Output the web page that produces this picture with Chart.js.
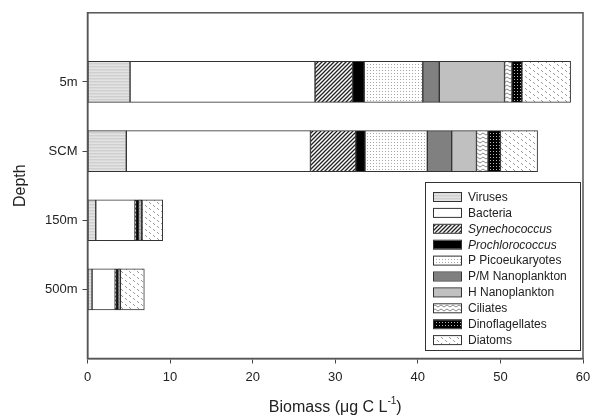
<!DOCTYPE html>
<html>
<head>
<meta charset="utf-8">
<script src="https://cdn.jsdelivr.net/npm/chart.js@4/dist/chart.umd.min.js"></script>
<style>
  html, body { margin: 0; padding: 0; background: #fff; }
  #wrap { width: 600px; height: 419px; }
</style>
</head>
<body>
<div id="wrap"><canvas id="biomassChart" width="600" height="419"></canvas></div>
<script>
// Depth categories (top to bottom)
const depths = ["5m", "SCM", "150m", "500m"];
const xTicks = [0, 10, 20, 30, 40, 50, 60];

// Biomass per group (ug C / L), one value per depth
const viruses         = [5.15, 4.7, 1.0, 0.55];
const bacteria        = [22.4, 22.3, 4.75, 2.8];
const synechococcus   = [4.55, 5.5, 0.1, 0.1];
const prochlorococcus = [1.4, 1.1, 0.35, 0.3];
const picoeukaryotes  = [7.1, 7.55, 0.1, 0.05];
const pmNano          = [2.0, 2.95, 0.05, 0.03];
const hNano           = [7.9, 3.0, 0.05, 0.03];
const ciliates        = [0.9, 1.4, 0.05, 0.02];
const dinoflagellates = [1.2, 1.5, 0.15, 0.1];
const diatoms         = [5.9, 4.5, 2.5, 2.9];

const FONT = "'Liberation Sans', Arial, sans-serif";

// small tiles used as fill patterns
function makePattern(w, h, draw) {
    const c = document.createElement("canvas");
    c.width = w; c.height = h;
    const g = c.getContext("2d");
    draw(g, w, h);
    return document.createElement("canvas").getContext("2d").createPattern(c, "repeat");
}

const pat = {
    viruses: makePattern(1, 3, g => {
        g.fillStyle = "#cfcfcf"; g.fillRect(0, 0, 1, 1);
        g.fillStyle = "#dadada"; g.fillRect(0, 1, 1, 1);
        g.fillStyle = "#e3e3e3"; g.fillRect(0, 2, 1, 1);
    }),
    syn: makePattern(4, 4, g => {
        g.fillStyle = "#fff"; g.fillRect(0, 0, 4, 4);
        g.strokeStyle = "#222"; g.lineWidth = 1.3;
        g.beginPath();
        g.moveTo(0, 4); g.lineTo(4, 0);
        g.moveTo(-1, 1); g.lineTo(1, -1);
        g.moveTo(3, 5); g.lineTo(5, 3);
        g.stroke();
    }),
    pico: makePattern(3, 3, g => {
        g.fillStyle = "#fff"; g.fillRect(0, 0, 3, 3);
        g.fillStyle = "#a8a8a8"; g.fillRect(1, 1, 1, 1);
    }),
    cil: makePattern(6, 4, g => {
        g.fillStyle = "#fff"; g.fillRect(0, 0, 6, 4);
        g.strokeStyle = "#888"; g.lineWidth = 1;
        g.beginPath();
        g.moveTo(0, 3); g.lineTo(3, 1); g.lineTo(6, 3);
        g.stroke();
    }),
    dino: makePattern(3, 3, g => {
        g.fillStyle = "#000"; g.fillRect(0, 0, 3, 3);
        g.fillStyle = "#bbb"; g.fillRect(1, 1, 1, 1);
    }),
    diatoms: makePattern(8, 6, g => {
        g.fillStyle = "#fff"; g.fillRect(0, 0, 8, 6);
        g.fillStyle = "#999";
        g.fillRect(1, 1, 1, 1); g.fillRect(2, 2, 1, 1);
        g.fillRect(5, 4, 1, 1); g.fillRect(6, 5, 1, 1);
    })
};

const groups = [
    { label: "Viruses", data: viruses, fill: pat.viruses },
    { label: "Bacteria", data: bacteria, fill: "#ffffff" },
    { label: "Synechococcus", data: synechococcus, fill: pat.syn, italic: true },
    { label: "Prochlorococcus", data: prochlorococcus, fill: "#000000", italic: true },
    { label: "P Picoeukaryotes", data: picoeukaryotes, fill: pat.pico },
    { label: "P/M Nanoplankton", data: pmNano, fill: "#808080" },
    { label: "H Nanoplankton", data: hNano, fill: "#c0c0c0" },
    { label: "Ciliates", data: ciliates, fill: pat.cil },
    { label: "Dinoflagellates", data: dinoflagellates, fill: pat.dino },
    { label: "Diatoms", data: diatoms, fill: pat.diatoms }
];

// empty slots above 5m and below 500m
const labels = ["", ...depths, ""];

// frame, boxed legend and axis titles
const decorPlugin = {
    id: "decor",
    afterDraw(chart) {
        const ctx = chart.ctx;
        const a = chart.chartArea;
        ctx.save();
        ctx.strokeStyle = "#555";
        ctx.lineWidth = 1.5;
        ctx.strokeRect(a.left, a.top, a.right - a.left, a.bottom - a.top);

        // legend box
        const bx = 425, by = 182, bw = 155, bh = 168;
        ctx.fillStyle = "#fff";
        ctx.fillRect(bx, by, bw, bh);
        ctx.strokeStyle = "#333";
        ctx.lineWidth = 1;
        ctx.strokeRect(bx + 0.5, by + 0.5, bw, bh);
        chart.data.datasets.forEach((ds, i) => {
            const cy = 197 + i * 15.9;
            ctx.fillStyle = ds.backgroundColor;
            ctx.fillRect(433, cy - 4, 28, 8);
            ctx.strokeStyle = "#333";
            ctx.strokeRect(433.5, cy - 4.5, 28, 9);
            ctx.fillStyle = "#222";
            ctx.font = (groups[i].italic ? "italic " : "") + "12px " + FONT;
            ctx.textBaseline = "middle";
            ctx.textAlign = "left";
            ctx.fillText(ds.label, 468, cy + 0.5);
        });

        // y title
        ctx.fillStyle = "#222";
        ctx.font = "16px " + FONT;
        ctx.textAlign = "center";
        ctx.textBaseline = "middle";
        ctx.save();
        ctx.translate(21, (a.top + a.bottom) / 2);
        ctx.rotate(-Math.PI / 2);
        ctx.fillText("Depth", 0, 0);
        ctx.restore();

        // x title with superscript
        const main = "Biomass (\u03bcg C L";
        const sup = "-1";
        const tail = ")";
        ctx.font = "16px " + FONT;
        const w1 = ctx.measureText(main).width;
        const w3 = ctx.measureText(tail).width;
        ctx.font = "10px " + FONT;
        const w2 = ctx.measureText(sup).width;
        let x = (a.left + a.right) / 2 - (w1 + w2 + w3) / 2;
        const y = 408;
        ctx.textAlign = "left";
        ctx.font = "16px " + FONT;
        ctx.fillText(main, x, y);
        x += w1;
        ctx.font = "10px " + FONT;
        ctx.fillText(sup, x, y - 7);
        x += w2;
        ctx.font = "16px " + FONT;
        ctx.fillText(tail, x, y);
        ctx.restore();
    }
};

const ctx = document.getElementById("biomassChart").getContext("2d");
const chart = new Chart(ctx, {
    type: "bar",
    data: {
        labels: labels,
        datasets: groups.map(g => ({
            label: g.label,
            data: [null, ...g.data, null],
            backgroundColor: g.fill,
            borderColor: "#333",
            borderWidth: 1,
            borderSkipped: false,
            barThickness: 41
        }))
    },
    options: {
        indexAxis: "y",
        responsive: false,
        animation: false,
        layout: { padding: { top: 12, right: 17, left: 0, bottom: 0 } },
        plugins: {
            legend: { display: false },
            tooltip: { enabled: false }
        },
        scales: {
            x: {
                stacked: true,
                min: 0,
                max: 60,
                afterBuildTicks: s => { s.ticks = xTicks.map(v => ({ value: v })); },
                afterFit: s => { s.height = 60.5; },
                ticks: { color: "#222", font: { family: FONT, size: 13 }, padding: 6, maxRotation: 0 },
                grid: { drawOnChartArea: false, tickLength: 5, tickColor: "#444" },
                border: { color: "#555", width: 1.5 }
            },
            y: {
                stacked: true,
                offset: false,
                afterFit: s => { s.width = 87.5; },
                ticks: { color: "#222", font: { family: FONT, size: 13 }, padding: 5 },
                grid: {
                    offset: false,
                    drawOnChartArea: false,
                    tickLength: 5,
                    tickColor: c => (c.index === 0 || c.index === labels.length - 1) ? "rgba(0,0,0,0)" : "#444"
                },
                border: { color: "#555", width: 1.5 }
            }
        }
    },
    plugins: [decorPlugin]
});
</script>
</body>
</html>
